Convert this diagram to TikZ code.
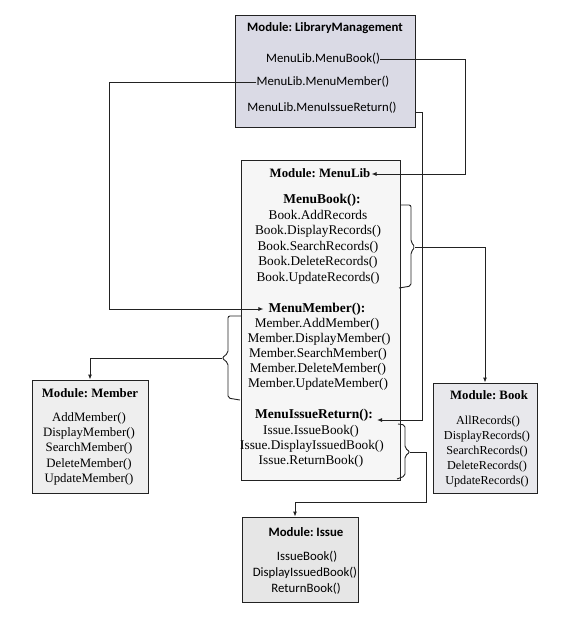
\documentclass[tikz,border=0pt]{standalone}
\usepackage{fontspec}
\setmainfont{Liberation Serif}
\newfontfamily\sansf{Carlito}
\usetikzlibrary{arrows.meta,calc}
\definecolor{lmfill}{HTML}{DADAE5}
\definecolor{mlfill}{HTML}{F6F6F6}
\definecolor{memfill}{HTML}{EEEEEE}
\definecolor{bkfill}{HTML}{E8E8EC}
\definecolor{isfill}{HTML}{E6E6E6}
\definecolor{ink}{HTML}{222222}
\frenchspacing
\begin{document}
\frenchspacing
\begin{tikzpicture}[x=1pt,y=-1pt,
  modbox/.style={draw=ink, line width=0.9pt, inner sep=0pt},
  conn/.style={draw=ink, line width=0.9pt},
  arr/.style={conn, -{Latex[length=5pt,width=4pt]}},
  base/.style={inner sep=0pt, text height=9pt, text depth=3pt},
  lmtxt/.style={base, font=\frenchspacing\sansf\fontsize{12.8}{15}\selectfont},
  lmtitle/.style={base, font=\frenchspacing\sansf\bfseries\fontsize{12.8}{15}\selectfont},
  sertxt/.style={base, font=\frenchspacing\fontsize{13.3}{15}\selectfont},
  sertitle/.style={base, inner xsep=1pt, font=\frenchspacing\bfseries\fontsize{12.8}{15}\selectfont},
  bigtitle/.style={base, inner xsep=1pt, font=\frenchspacing\bfseries\fontsize{13.5}{15}\selectfont},
  smalltxt/.style={base, font=\frenchspacing\fontsize{12.8}{15}\selectfont},
  booktxt/.style={base, font=\frenchspacing\fontsize{12.2}{15}\selectfont},
  brace/.style={conn, rounded corners=2pt}
]
\useasboundingbox (0,0) rectangle (580,627);

% ---------- boxes ----------
\node[modbox, fill=lmfill, minimum width=180pt, minimum height=112pt] (lm) at (325,71) {};
\node[modbox, fill=mlfill, line width=0.75pt, minimum width=159pt, minimum height=320pt] (ml) at (320.5,320) {};
\node[modbox, fill=memfill, minimum width=116pt, minimum height=113pt] (mem) at (90,436.5) {};
\node[modbox, fill=bkfill, minimum width=104pt, minimum height=110pt] (bk) at (485,438) {};
\node[modbox, fill=isfill, minimum width=116pt, minimum height=85pt] (iss) at (300,559.5) {};

% ---------- LibraryManagement ----------
\node[lmtitle] (lmt) at (325,28) {Module: LibraryManagement};
\node[lmtxt] (lmb) at (323,59) {MenuLib.MenuBook()};
\node[lmtxt] (lmm) at (323,82) {MenuLib.MenuMember()};
\node[lmtxt] (lmi) at (322,108) {MenuLib.MenuIssueReturn()};

% ---------- MenuLib ----------
\node[sertitle] (mlt) at (320,174) {Module: MenuLib};
\node[bigtitle] (mb) at (322,200) {MenuBook():};
\node[sertxt] (b1) at (318,216) {Book.AddRecords};
\node[sertxt] (b2) at (318,231.5) {Book.DisplayRecords()};
\node[sertxt] (b3) at (318,247) {Book.SearchRecords()};
\node[sertxt] (b4) at (318,262.5) {Book.DeleteRecords()};
\node[sertxt] (b5) at (318,278) {Book.UpdateRecords()};

\node[bigtitle] (mm) at (317,309) {MenuMember():};
\node[sertxt] (m1) at (317,324) {Member.AddMember()};
\node[sertxt] (m2) at (319,339) {Member.DisplayMember()};
\node[sertxt] (m3) at (318,354) {Member.SearchMember()};
\node[sertxt] (m4) at (318,369) {Member.DeleteMember()};
\node[sertxt] (m5) at (318,384.5) {Member.UpdateMember()};

\node[bigtitle] (mi) at (314,415) {MenuIssueReturn():};
\node[sertxt] (i1) at (311,431) {Issue.IssueBook()};
\node[sertxt] (i2) at (312,446) {Issue.DisplayIssuedBook()};
\node[sertxt] (i3) at (311,461) {Issue.ReturnBook()};

% ---------- Member ----------
\node[sertitle] (memt) at (90,394) {Module: Member};
\node[smalltxt] (mem1) at (89,418) {AddMember()};
\node[smalltxt] (mem2) at (89,433) {DisplayMember()};
\node[smalltxt] (mem3) at (89,448.5) {SearchMember()};
\node[smalltxt] (mem4) at (89,464) {DeleteMember()};
\node[smalltxt] (mem5) at (89,479) {UpdateMember()};

% ---------- Book ----------
\node[sertitle] (bkt) at (489,396) {Module: Book};
\node[booktxt] (bk1) at (488,421) {AllRecords()};
\node[booktxt] (bk2) at (487,436) {DisplayRecords()};
\node[booktxt] (bk3) at (487,451) {SearchRecords()};
\node[booktxt] (bk4) at (487,466) {DeleteRecords()};
\node[booktxt] (bk5) at (487,481) {UpdateRecords()};

% ---------- Issue ----------
\node[lmtitle] (isst) at (306,533) {Module: Issue};
\node[lmtxt] (iss1) at (307,557) {IssueBook()};
\node[lmtxt] (iss2) at (305,573) {DisplayIssuedBook()};
\node[lmtxt] (iss3) at (306,589) {ReturnBook()};

% ---------- connectors from LibraryManagement ----------
\draw[arr] (lmb.east) -- ++(85,0) |- (mlt.east);
\draw[arr] (lmm.west) -- ++(-147,0) |- ($(mm.west)+(-4,0)$);
\draw[arr] ($(lm.south east)+(0,-15)$) -- ++(7,0) |- ($(mi.east)+(3,5)$);

% ---------- braces ----------
\coordinate (tb) at (415,247);
\draw[brace] (400,205) -- (411,205) -- (411,242) -- (tb) -- (411,252) -- (411,286) -- (399,288);
\draw[arr] (tb) -| (bk.north);

\coordinate (tm) at (222,358);
\draw[brace] (241,316) -- (228,316) -- (228,353) -- (tm) -- (228,363) -- (228,398) -- (240,400);
\draw[arr] (tm) -| (mem.north);

\coordinate (ti) at (410,452);
\draw[brace] (398,424) -- (405,425) -- (405,448) -- (ti) -- (405,456) -- (405,476) -- (397,479);
\draw[arr] (ti) -- ++(16,0) -- ++(0,50) -| ($(iss.north)+(-5,0)$);
\end{tikzpicture}
\end{document}
